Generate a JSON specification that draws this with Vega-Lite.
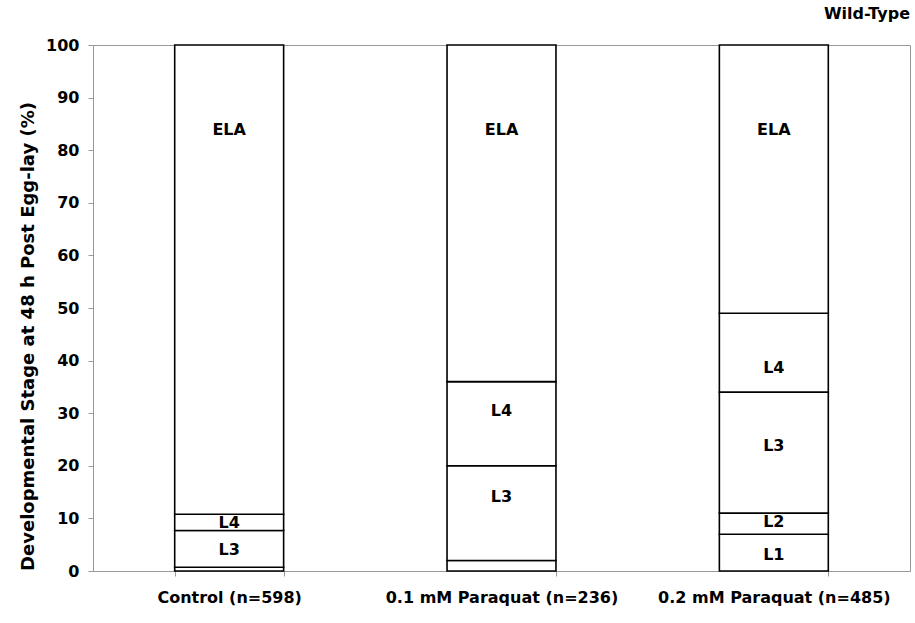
{
  "$schema": "https://vega.github.io/schema/vega-lite/v6.json",
  "width": 817,
  "height": 526,
  "autosize": {"type": "none"},
  "padding": {"left": 93, "top": 45, "right": 5, "bottom": 52},
  "background": "white",
  "title": {"text": "Wild-Type", "anchor": "end", "font": "DejaVu Sans", "fontSize": 16, "fontWeight": "bold", "color": "black", "offset": 15},
  "config": {"view": {"stroke": "#999", "strokeWidth": 1}, "font": "DejaVu Sans"},
  "datasets": {
    "stages": [
      {"category": "Control (n=598)", "stage": "L1-L2", "order": 1, "value": 0.7},
      {"category": "Control (n=598)", "stage": "L3", "order": 3, "value": 7.0},
      {"category": "Control (n=598)", "stage": "L4", "order": 4, "value": 3.1},
      {"category": "Control (n=598)", "stage": "ELA", "order": 5, "value": 89.2},
      {"category": "0.1 mM Paraquat (n=236)", "stage": "L1-L2", "order": 1, "value": 2.0},
      {"category": "0.1 mM Paraquat (n=236)", "stage": "L3", "order": 3, "value": 18.0},
      {"category": "0.1 mM Paraquat (n=236)", "stage": "L4", "order": 4, "value": 16.0},
      {"category": "0.1 mM Paraquat (n=236)", "stage": "ELA", "order": 5, "value": 64.0},
      {"category": "0.2 mM Paraquat (n=485)", "stage": "L1", "order": 1, "value": 7.0},
      {"category": "0.2 mM Paraquat (n=485)", "stage": "L2", "order": 2, "value": 4.0},
      {"category": "0.2 mM Paraquat (n=485)", "stage": "L3", "order": 3, "value": 23.0},
      {"category": "0.2 mM Paraquat (n=485)", "stage": "L4", "order": 4, "value": 15.0},
      {"category": "0.2 mM Paraquat (n=485)", "stage": "ELA", "order": 5, "value": 51.0}
    ],
    "labels": [
      {"category": "Control (n=598)", "label": "ELA", "pos": 83.8},
      {"category": "Control (n=598)", "label": "L4", "pos": 9.2},
      {"category": "Control (n=598)", "label": "L3", "pos": 3.9},
      {"category": "0.1 mM Paraquat (n=236)", "label": "ELA", "pos": 83.8},
      {"category": "0.1 mM Paraquat (n=236)", "label": "L4", "pos": 30.4},
      {"category": "0.1 mM Paraquat (n=236)", "label": "L3", "pos": 14.0},
      {"category": "0.2 mM Paraquat (n=485)", "label": "ELA", "pos": 83.8},
      {"category": "0.2 mM Paraquat (n=485)", "label": "L4", "pos": 38.6},
      {"category": "0.2 mM Paraquat (n=485)", "label": "L3", "pos": 23.8},
      {"category": "0.2 mM Paraquat (n=485)", "label": "L2", "pos": 9.3},
      {"category": "0.2 mM Paraquat (n=485)", "label": "L1", "pos": 3.0}
    ]
  },
  "layer": [
    {
      "data": {"name": "stages"},
      "mark": {"type": "bar", "fill": "white", "stroke": "black", "strokeWidth": 1.6},
      "encoding": {
        "x": {
          "field": "category", "type": "nominal", "sort": null,
          "scale": {"paddingInner": 0.6, "paddingOuter": 0.3},
          "axis": {
            "title": null, "labelAngle": 0, "labelFontSize": 16, "labelFontWeight": "bold", "labelColor": "black", "labelLimit": 400,
            "tickBand": "extent", "tickColor": "#999", "domainColor": "#999", "tickSize": 5, "labelPadding": 13
          }
        },
        "y": {
          "field": "value", "type": "quantitative", "stack": "zero",
          "scale": {"domain": [0, 100]},
          "axis": {
            "title": "Developmental Stage at 48 h Post Egg-lay (%)", "titleFontSize": 18, "titleFontWeight": "bold", "titleColor": "black",
            "titlePadding": 8, "titleY": 291, "tickCount": 10, "grid": false, "labelFontSize": 16, "labelFontWeight": "bold", "labelColor": "black",
            "tickColor": "#999", "domainColor": "#999", "tickSize": 5, "labelPadding": 9
          }
        },
        "order": {"field": "order", "type": "quantitative"},
        "detail": {"field": "stage"}
      }
    },
    {
      "data": {"name": "labels"},
      "mark": {"type": "text", "fontWeight": "bold", "fontSize": 16, "color": "black"},
      "encoding": {
        "x": {"field": "category", "type": "nominal", "sort": null},
        "y": {"field": "pos", "type": "quantitative"},
        "text": {"field": "label"}
      }
    }
  ]
}
